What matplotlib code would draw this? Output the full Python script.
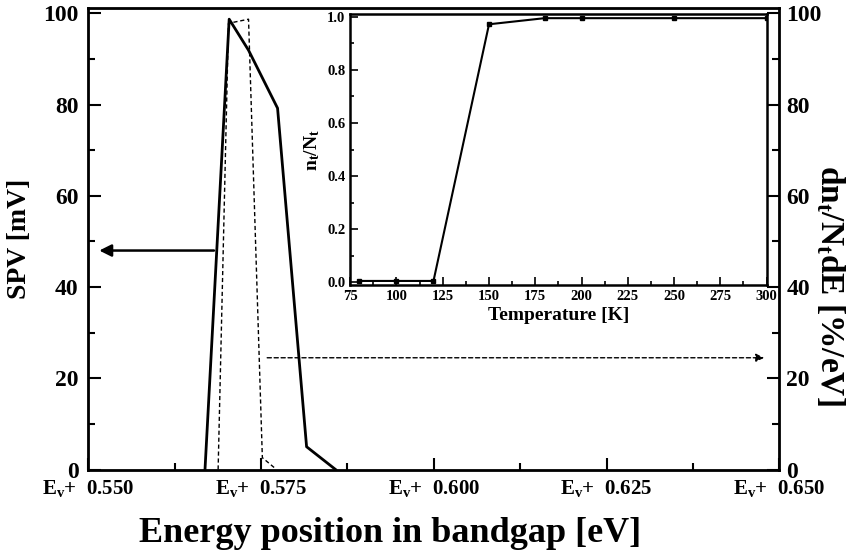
import matplotlib.pyplot as plt
from matplotlib.ticker import MultipleLocator

plt.rcParams['font.family'] = 'Liberation Serif'
plt.rcParams['font.weight'] = 'bold'
plt.rcParams['axes.labelweight'] = 'bold'
plt.rcParams['mathtext.fontset'] = 'custom'
plt.rcParams['mathtext.rm'] = 'Liberation Serif:bold'
plt.rcParams['mathtext.it'] = 'Liberation Serif:bold'
plt.rcParams['mathtext.bf'] = 'Liberation Serif:bold'

# SPV curve (left axis)
energy_spv = [0.5669, 0.5704, 0.5732, 0.5774, 0.5816, 0.5858]
spv = [0, 98.7, 91.9, 79.2, 5.0, 0]

# trap distribution dn_t/N_t dE (right axis)
energy_dist = [0.5688, 0.5703, 0.5732, 0.5752, 0.5771]
dist = [0, 97.8, 98.7, 2.6, 0.2]

# inset: occupied traps vs temperature
temp = [80, 100, 120, 150, 180, 200, 250, 300]
occ = [0.005, 0.005, 0.005, 0.972, 0.995, 0.995, 0.995, 0.995]

xticks = [0.550, 0.575, 0.600, 0.625, 0.650]
xticklabels = [r'E$_\mathregular{v}$+  %.3f' % v for v in xticks]

fig = plt.figure(figsize=(8.48, 5.57), dpi=100)
ax = fig.add_axes([0.104, 0.157, 0.815, 0.829])

ax.plot(energy_spv, spv, color='black', lw=2.0)
ax.set_xlim(0.55, 0.65)
ax.set_ylim(0, 101.2)
ax.set_xticks(xticks)
ax.set_xticklabels(xticklabels, fontsize=15)
ax.xaxis.set_minor_locator(MultipleLocator(0.0125))
ax.yaxis.set_major_locator(MultipleLocator(20))
ax.yaxis.set_minor_locator(MultipleLocator(10))
ax.tick_params(which='both', direction='in', width=1.5, labelsize=17)
ax.tick_params(which='major', length=9)
ax.tick_params(which='minor', length=5)
ax.tick_params(axis='x', pad=6, labelsize=15)
ax.tick_params(axis='y', pad=7)
ax.set_ylabel('SPV [mV]', fontsize=20, labelpad=8)
ax.set_xlabel('Energy position in bandgap [eV]', fontsize=26)
ax.xaxis.set_label_coords(0.437, -0.103)
for s in ax.spines.values():
    s.set_linewidth(2)

ax2 = ax.twinx()
ax2.plot(energy_dist, dist, color='black', lw=1.0, ls=(0, (3, 2)))
ax2.set_ylim(0, 101.2)
ax2.yaxis.set_major_locator(MultipleLocator(20))
ax2.yaxis.set_minor_locator(MultipleLocator(10))
ax2.tick_params(which='both', direction='in', width=1.5, labelsize=17)
ax2.tick_params(which='major', length=9)
ax2.tick_params(which='minor', length=5)
ax2.tick_params(axis='y', pad=5)
ax2.set_ylabel(r'dn$_t$/N$_t$dE [%/eV]', fontsize=24, rotation=-90, va='center')
ax2.yaxis.set_label_coords(1.073, 0.40)

# arrows pointing to the axis each curve belongs to
ax.annotate('', xy=(0.5516, 48), xytext=(0.5682, 48),
            arrowprops=dict(arrowstyle='-|>', color='black', lw=1.8,
                            mutation_scale=18, shrinkA=0, shrinkB=0))
ax.annotate('', xy=(0.6478, 24.5), xytext=(0.5759, 24.5),
            arrowprops=dict(arrowstyle='-|>', color='black', lw=1.0,
                            ls=(0, (3, 2)), mutation_scale=12,
                            shrinkA=0, shrinkB=0))

# inset
ins = fig.add_axes([0.413, 0.488, 0.491, 0.487])
ins.plot(temp, occ, color='black', lw=1.5, marker='s', ms=3.5)
ins.set_xlim(75, 300)
ins.set_ylim(-0.011, 1.011)
ins.xaxis.set_major_locator(MultipleLocator(25))
ins.xaxis.set_minor_locator(MultipleLocator(12.5))
ins.yaxis.set_major_locator(MultipleLocator(0.2))
ins.yaxis.set_minor_locator(MultipleLocator(0.1))
ins.tick_params(which='both', direction='in', width=1.2, labelsize=10.5)
ins.tick_params(which='major', length=6)
ins.tick_params(which='minor', length=3)
ins.set_xlabel('Temperature [K]', fontsize=14, labelpad=3)
ins.set_ylabel(r'n$_t$/N$_t$', fontsize=14, labelpad=4)
for s in ins.spines.values():
    s.set_linewidth(1.8)

fig.savefig('out.png', dpi=100)
